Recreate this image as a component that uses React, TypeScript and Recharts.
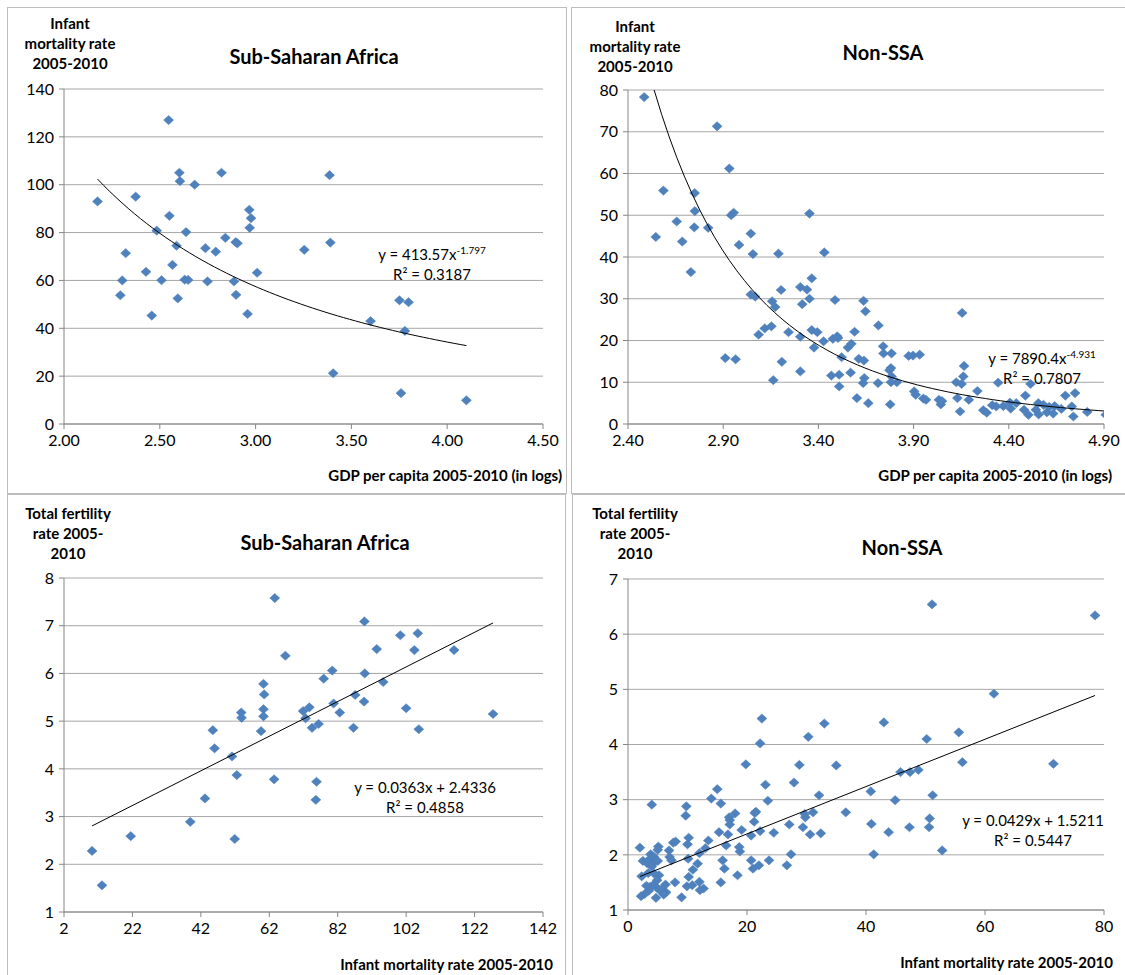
import React from "react";
import { ScatterChart, Scatter, XAxis, YAxis, CartesianGrid } from "recharts";

const FONT = "Lato, 'Open Sans', sans-serif";
const MARKER = "#4F81BD";
const GRID = "#a6a6a6";
const AXIS = "#868686";

// Sub-Saharan Africa: log GDP per capita vs infant mortality
const SSA_GDP = [
  2.175, 2.374, 2.546, 2.602, 2.605, 2.682, 2.822, 3.386, 2.55, 2.967, 2.976,
  2.969, 2.484, 2.637, 2.842, 2.896, 2.905, 2.322, 2.304, 2.294, 2.428, 2.458,
  2.509, 2.566, 2.587, 2.594, 2.63, 2.648, 2.738, 2.792, 2.749, 2.887, 2.898,
  2.958, 3.008, 3.254, 3.39, 3.405, 3.6, 3.751, 3.798, 3.779, 3.759, 4.1,
];
const SSA_IMR = [
  93, 95, 127, 105, 101.5, 100, 105, 104, 87, 89.5, 86, 82, 80.8, 80.2, 77.8,
  76, 75.5, 71.4, 60, 53.8, 63.6, 45.3, 60.1, 66.5, 74.5, 52.5, 60.3, 60.2,
  73.5, 72, 59.6, 59.6, 54, 46, 63.2, 72.8, 75.8, 21.2, 43, 51.7, 50.9, 38.9,
  12.9, 9.9,
];

// Non-SSA: log GDP per capita vs infant mortality
const NON_GDP = [
  2.485, 2.868, 2.932, 2.586, 2.75, 2.751, 2.656, 2.748, 2.821, 2.942, 2.955,
  3.353, 3.045, 2.546, 2.685, 2.73, 2.983, 3.056, 3.19, 3.431, 3.045, 3.068,
  3.157, 3.173, 3.204, 3.305, 3.34, 3.365, 3.353, 3.315, 3.487, 3.637, 3.647,
  3.715, 4.155, 3.086, 3.118, 3.153, 3.243, 3.305, 3.365, 3.394, 3.377, 3.427,
  3.476, 3.499, 3.503, 3.59, 3.555, 3.573, 2.911, 2.965, 3.208, 3.522, 3.612,
  3.639, 3.74, 3.742, 3.784, 3.781, 3.773, 3.784, 3.781, 3.812, 3.874, 3.897,
  3.932, 3.305, 3.163, 3.468, 3.509, 3.509, 3.569, 3.641, 3.635, 3.713, 3.602,
  3.662, 3.777, 3.903, 3.911, 3.951, 3.965, 4.033, 4.043, 4.049, 4.124, 4.152,
  4.161, 4.165, 4.13, 4.144, 4.19, 4.235, 4.266, 4.284, 4.313, 4.344, 4.334,
  4.371, 4.41, 4.406, 4.439, 4.487, 4.514, 4.48, 4.503, 4.555, 4.542, 4.557,
  4.582, 4.6, 4.633, 4.612, 4.641, 4.697, 4.676, 4.731, 4.739, 4.748, 4.812,
  4.909,
];
const NON_IMR = [
  78.3, 71.3, 61.2, 55.9, 55.3, 51, 48.5, 47.1, 47, 50, 50.6, 50.4, 45.6, 44.8,
  43.7, 36.4, 42.9, 40.7, 40.8, 41.1, 31, 30.5, 29.4, 28, 32.1, 32.8, 32.2,
  34.9, 30, 28.7, 29.7, 29.5, 27, 23.6, 26.6, 21.4, 22.9, 23.4, 22, 20.9, 22.5,
  22, 18.3, 19.8, 20.4, 21, 20.6, 22.1, 18.3, 19.2, 15.8, 15.5, 14.9, 16, 15.6,
  15.2, 18.6, 16.9, 16.9, 13.4, 12.9, 11.4, 10, 10, 16.3, 16.4, 16.6, 12.6,
  10.5, 11.6, 11.8, 9, 12.3, 11, 9.8, 9.8, 6.2, 5, 4.7, 7.8, 7, 6.1, 5.8, 5.8,
  4.7, 5.5, 10, 9.6, 11.4, 13.9, 6.2, 3, 5.8, 7.9, 3.3, 2.7, 4.5, 9.9, 4.2, 4.3,
  3.7, 5.1, 5, 6.8, 9.6, 3.4, 2.2, 5, 3.4, 2.3, 4.6, 2.8, 2.5, 4.1, 4.3, 6.8,
  3.6, 4.2, 1.8, 7.4, 2.9, 2.2,
];

// Sub-Saharan Africa: infant mortality vs total fertility
const SSA_IMR_2 = [
  63.6, 89.8, 100.3, 105.4, 93.4, 104.4, 116, 66.7, 80.4, 77.9, 89.9, 95.3,
  60.3, 60.5, 87.1, 89.7, 80.8, 82.6, 73.7, 71.9, 72.6, 60.3, 60.3, 53.8, 53.9,
  102, 127.4, 74.5, 76.4, 86.6, 105.7, 45.5, 59.6, 46, 51.1, 52.5, 63.4, 75.8,
  75.6, 43.2, 38.9, 21.5, 51.9, 10.2, 13.1,
];
const SSA_TFR = [
  7.58, 7.09, 6.8, 6.84, 6.51, 6.49, 6.49, 6.37, 6.06, 5.89, 6, 5.82, 5.78,
  5.56, 5.55, 5.41, 5.37, 5.18, 5.29, 5.21, 5.06, 5.25, 5.1, 5.18, 5.07, 5.27,
  5.15, 4.86, 4.94, 4.86, 4.83, 4.81, 4.79, 4.43, 4.26, 3.87, 3.78, 3.73, 3.35,
  3.38, 2.89, 2.59, 2.53, 2.28, 1.56,
];

// Non-SSA: infant mortality vs total fertility
const NON_IMR_2 = [
  51.1, 78.5, 61.5, 22.5, 33, 43, 55.6, 50.2, 30.3, 22.2, 19.8, 28.8, 35, 56.2,
  71.5, 45.8, 47.4, 48.8, 23.1, 27.9, 32.1, 40.8, 44.9, 51.2, 23.5, 15, 14,
  15.6, 4, 9.8, 9.7, 18, 17, 17.1, 17.1, 21.3, 21.5, 21.2, 29.7, 29.8, 31.1,
  36.6, 27.1, 29.4, 30.6, 32.4, 19.1, 22.2, 24.5, 20.7, 15.3, 16.8, 40.9, 43.8,
  47.3, 50.6, 50.7, 52.8, 41.3, 27.4, 26.7, 22, 21, 23.7, 20.7, 18.7, 18.8,
  18.4, 15.6, 15.9, 16.2, 16.5, 13.5, 13, 12, 11.7, 10.9, 10.2, 10, 10.1, 10.2,
  9.9, 10.8, 9, 12, 12.1, 12.7, 7.9, 7.6, 8, 6.9, 7, 7.3, 6.3, 6.4, 5.6, 5.1, 5,
  5.2, 4.9, 4.7, 4.8, 4.2, 3.7, 3.5, 3.1, 2.8, 2.2, 2, 2.3, 2.5, 3.2, 3.5, 3.8,
  4.3, 4, 4.6, 5, 4.4, 3.4, 5.3, 6,
];
const NON_TFR = [
  6.54, 6.34, 4.92, 4.47, 4.38, 4.4, 4.22, 4.1, 4.14, 4.02, 3.64, 3.63, 3.62,
  3.68, 3.65, 3.5, 3.5, 3.54, 3.27, 3.31, 3.08, 3.15, 2.99, 3.08, 2.98, 3.19,
  3.02, 2.93, 2.91, 2.88, 2.71, 2.75, 2.68, 2.63, 2.55, 2.76, 2.78, 2.6, 2.74,
  2.68, 2.77, 2.77, 2.55, 2.5, 2.37, 2.39, 2.45, 2.43, 2.4, 2.35, 2.41, 2.37,
  2.56, 2.41, 2.5, 2.5, 2.66, 2.08, 2.01, 2.01, 1.81, 1.81, 1.75, 1.9, 1.9, 2.14,
  2.06, 1.63, 1.5, 1.9, 1.75, 2.17, 2.26, 2.12, 2.03, 1.84, 1.73, 2.31, 2.19,
  1.93, 1.6, 1.43, 1.45, 1.23, 1.51, 1.36, 1.39, 1.5, 2.22, 2.24, 2.08, 1.96,
  1.9, 1.46, 1.32, 1.37, 2.15, 2.09, 1.63, 1.54, 1.22, 1.41, 1.45, 1.42, 1.35,
  1.44, 1.29, 1.25, 2.13, 1.61, 1.89, 1.85, 1.91, 2.01, 1.97, 1.79, 1.88, 1.89,
  1.66, 1.67, 1.36, 1.28,
];

// axis ticks
const GDP_TICKS_SSA = [2, 2.5, 3, 3.5, 4, 4.5];
const GDP_TICKS_NON = [2.4, 2.9, 3.4, 3.9, 4.4, 4.9];
const IMR_TICKS_SSA = [0, 20, 40, 60, 80, 100, 120, 140];
const IMR_TICKS_NON = [0, 10, 20, 30, 40, 50, 60, 70, 80];
const IMRX_TICKS_SSA = [2, 22, 42, 62, 82, 102, 122, 142];
const IMRX_TICKS_NON = [0, 20, 40, 60, 80];
const TFR_TICKS_SSA = [1, 2, 3, 4, 5, 6, 7, 8];
const TFR_TICKS_NON = [1, 2, 3, 4, 5, 6, 7];

// fitted trend coefficients
const SSA_POWER = { a: 413.57, b: -1.797, r2: "0.3187" };
const NON_POWER = { a: 7890.4, b: -4.931, r2: "0.7807" };
const SSA_LINEAR = { m: 0.0363, c: 2.4336, r2: "0.4858" };
const NON_LINEAR = { m: 0.0429, c: 1.5211, r2: "0.5447" };

type Pt = { x: number; y: number };

const zip = (xs: number[], ys: number[]): Pt[] =>
  xs.map((x, i) => ({ x, y: ys[i] }));

// power curve y = a*x^b across the data range, cut where it leaves the top of the plot
const powerTrend = (a: number, b: number, xs: number[], yMax: number): Pt[] => {
  const lo = Math.max(Math.min(...xs), Math.pow(yMax / a, 1 / b));
  const hi = Math.max(...xs);
  const out: Pt[] = [];
  for (let i = 0; i <= 60; i++) {
    const x = lo + ((hi - lo) * i) / 60;
    out.push({ x, y: a * Math.pow(x, b) });
  }
  return out;
};

const linearTrend = (m: number, c: number, xs: number[]): Pt[] => {
  const lo = Math.min(...xs);
  const hi = Math.max(...xs);
  return [
    { x: lo, y: m * lo + c },
    { x: hi, y: m * hi + c },
  ];
};

const Diamond = (props: any) => {
  const { cx, cy } = props;
  if (cx == null || cy == null) return <g />;
  return (
    <polygon
      points={`${cx},${cy - 4.6} ${cx + 5},${cy} ${cx},${cy + 4.6} ${cx - 5},${cy}`}
      fill={MARKER}
      stroke="#4A7EBB"
      strokeWidth={0.5}
    />
  );
};

const NoDot = () => <g />;

type Box = { x: number; y: number; w: number; h: number };
type Plot = { left: number; top: number; right: number; bottom: number };

interface PanelProps {
  box: Box;
  plot: Plot;
  xDomain: [number, number];
  xTicks: number[];
  xDigits: number;
  yDomain: [number, number];
  yTicks: number[];
  points: Pt[];
  trend: Pt[];
}

const tickStyle = { fill: "#000", fontSize: 16, fontFamily: FONT };

const Panel = ({ box, plot, xDomain, xTicks, xDigits, yDomain, yTicks, points, trend }: PanelProps) => (
  <div style={{ position: "absolute", left: box.x, top: box.y }}>
    <ScatterChart
      width={box.w}
      height={box.h}
      margin={{
        top: plot.top - box.y,
        right: box.x + box.w - plot.right,
        bottom: 0,
        left: 0,
      }}
    >
      <CartesianGrid vertical={false} stroke={GRID} />
      <XAxis
        type="number"
        dataKey="x"
        domain={xDomain}
        ticks={xTicks}
        interval={0}
        allowDataOverflow
        height={box.y + box.h - plot.bottom}
        tickFormatter={(v: number) => v.toFixed(xDigits)}
        axisLine={{ stroke: AXIS }}
        tickLine={{ stroke: AXIS }}
        tickSize={5}
        tickMargin={6}
        tick={tickStyle}
      />
      <YAxis
        type="number"
        dataKey="y"
        domain={yDomain}
        ticks={yTicks}
        interval={0}
        allowDataOverflow
        width={plot.left - box.x}
        axisLine={{ stroke: AXIS }}
        tickLine={{ stroke: AXIS }}
        tickSize={5}
        tickMargin={5}
        tick={tickStyle}
      />
      <Scatter data={points} shape={Diamond} isAnimationActive={false} />
      <Scatter
        data={trend}
        shape={NoDot}
        line={{ stroke: "#000", strokeWidth: 1 }}
        lineType="joint"
        isAnimationActive={false}
      />
    </ScatterChart>
  </div>
);

const Text = ({
  x,
  y,
  children,
  size = 15,
  bold = false,
  align = "center",
  lh = 20,
}: {
  x: number;
  y: number;
  children: React.ReactNode;
  size?: number;
  bold?: boolean;
  align?: "center" | "right";
  lh?: number;
}) => (
  <div
    style={{
      position: "absolute",
      top: y,
      left: align === "center" ? x - 200 : x - 400,
      width: 400,
      textAlign: align,
      fontFamily: FONT,
      fontSize: size,
      fontWeight: bold ? 700 : 400,
      lineHeight: `${lh}px`,
      color: "#000",
      whiteSpace: "nowrap",
    }}
  >
    {children}
  </div>
);

const Frame = ({ x, y, w, h }: Box) => (
  <div
    style={{
      position: "absolute",
      left: x,
      top: y,
      width: w,
      height: h,
      boxSizing: "border-box",
      border: "1px solid #bdbdbd",
    }}
  />
);

const sup = { fontSize: 10, verticalAlign: "6px" } as const;

export default function App() {
  return (
    <div
      style={{
        position: "absolute",
        left: 0,
        top: 0,
        width: 1125,
        height: 975,
        overflow: "hidden",
        background: "#fff",
      }}
    >
      <Frame x={7} y={7} w={560} h={487} />
      <Frame x={571} y={7} w={570} h={487} />
      <Frame x={7} y={494} w={559} h={500} />
      <Frame x={572} y={494} w={570} h={500} />

      <Panel
        box={{ x: 8, y: 8, w: 557, h: 484 }}
        plot={{ left: 64, top: 89, right: 543, bottom: 424 }}
        xDomain={[2, 4.5]}
        xTicks={GDP_TICKS_SSA}
        xDigits={2}
        yDomain={[0, 140]}
        yTicks={IMR_TICKS_SSA}
        points={zip(SSA_GDP, SSA_IMR)}
        trend={powerTrend(SSA_POWER.a, SSA_POWER.b, SSA_GDP, 140)}
      />
      <Panel
        box={{ x: 572, y: 8, w: 553, h: 484 }}
        plot={{ left: 628, top: 90, right: 1104, bottom: 424 }}
        xDomain={[2.4, 4.9]}
        xTicks={GDP_TICKS_NON}
        xDigits={2}
        yDomain={[0, 80]}
        yTicks={IMR_TICKS_NON}
        points={zip(NON_GDP, NON_IMR)}
        trend={powerTrend(NON_POWER.a, NON_POWER.b, NON_GDP, 80)}
      />
      <Panel
        box={{ x: 8, y: 495, w: 557, h: 480 }}
        plot={{ left: 64, top: 578, right: 543, bottom: 912 }}
        xDomain={[2, 142]}
        xTicks={IMRX_TICKS_SSA}
        xDigits={0}
        yDomain={[1, 8]}
        yTicks={TFR_TICKS_SSA}
        points={zip(SSA_IMR_2, SSA_TFR)}
        trend={linearTrend(SSA_LINEAR.m, SSA_LINEAR.c, SSA_IMR_2)}
      />
      <Panel
        box={{ x: 573, y: 495, w: 552, h: 480 }}
        plot={{ left: 628, top: 579, right: 1104, bottom: 910 }}
        xDomain={[0, 80]}
        xTicks={IMRX_TICKS_NON}
        xDigits={0}
        yDomain={[1, 7]}
        yTicks={TFR_TICKS_NON}
        points={zip(NON_IMR_2, NON_TFR)}
        trend={linearTrend(NON_LINEAR.m, NON_LINEAR.c, NON_IMR_2)}
      />

      {/* chart titles */}
      <Text x={314} y={43} size={20} bold lh={26}>Sub-Saharan Africa</Text>
      <Text x={883} y={39} size={20} bold lh={26}>Non-SSA</Text>
      <Text x={325} y={529} size={20} bold lh={26}>Sub-Saharan Africa</Text>
      <Text x={902} y={534} size={20} bold lh={26}>Non-SSA</Text>

      {/* y-axis titles */}
      <Text x={70} y={13} size={15} bold>
        Infant<br />mortality rate<br />2005-2010
      </Text>
      <Text x={635} y={16} size={15} bold>
        Infant<br />mortality rate<br />2005-2010
      </Text>
      <Text x={68} y={503} size={15} bold>
        Total fertility<br />rate 2005-<br />2010
      </Text>
      <Text x={635} y={503} size={15} bold>
        Total fertility<br />rate 2005-<br />2010
      </Text>

      {/* x-axis titles */}
      <Text x={562} y={465} size={15} bold align="right">GDP per capita 2005-2010 (in logs)</Text>
      <Text x={1112} y={465} size={15} bold align="right">GDP per capita 2005-2010 (in logs)</Text>
      <Text x={553} y={954} size={15} bold align="right">Infant mortality rate 2005-2010</Text>
      <Text x={1113} y={952} size={15} bold align="right">Infant mortality rate 2005-2010</Text>

      {/* trend equations */}
      <Text x={432} y={240}>
        y = {SSA_POWER.a}x<span style={sup}>{SSA_POWER.b}</span>
        <br />R² = {SSA_POWER.r2}
      </Text>
      <Text x={1042} y={344}>
        y = {NON_POWER.a}x<span style={sup}>{NON_POWER.b}</span>
        <br />R² = {NON_POWER.r2}
      </Text>
      <Text x={425} y={777}>
        y = {SSA_LINEAR.m}x + {SSA_LINEAR.c}
        <br />R² = {SSA_LINEAR.r2}
      </Text>
      <Text x={1033} y={810}>
        y = {NON_LINEAR.m}x + {NON_LINEAR.c}
        <br />R² = {NON_LINEAR.r2}
      </Text>
    </div>
  );
}
